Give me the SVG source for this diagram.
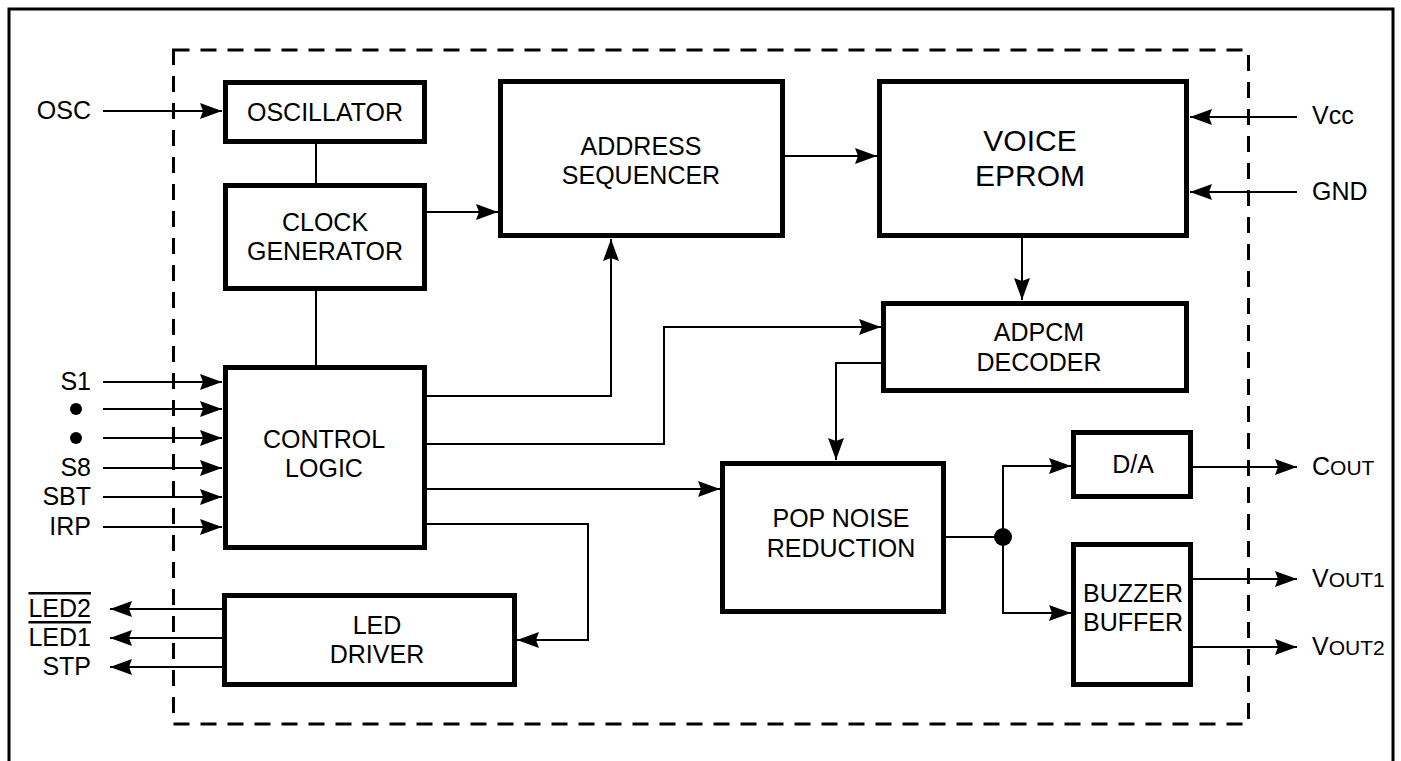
<svg xmlns="http://www.w3.org/2000/svg" width="1401" height="761" viewBox="0 0 1401 761">
<defs>
<marker id="arr" markerUnits="userSpaceOnUse" markerWidth="24" markerHeight="18" refX="22" refY="8" orient="auto">
<path d="M0,0 L22,8 L0,16 L3,8 z" fill="#000"/>
</marker>
<style>
.box{fill:#fff;stroke:#000;stroke-width:5}
.ln{fill:none;stroke:#000;stroke-width:2}
.ar{fill:none;stroke:#000;stroke-width:2;marker-end:url(#arr)}
text{font-family:"Liberation Sans",Arial,sans-serif;font-size:25px;fill:#000}
.c{text-anchor:middle}
.e{text-anchor:end}
.sm{font-size:21px}
</style>
</defs>
<rect x="0" y="0" width="1401" height="761" fill="#fff"/>
<rect x="9" y="9" width="1384" height="800" fill="none" stroke="#000" stroke-width="3"/>
<rect x="173.5" y="50" width="1075" height="674" fill="none" stroke="#000" stroke-width="3" stroke-dasharray="16 11"/>

<g id="connectors">
<path class="ar" d="M103,111 H222"/>
<path class="ln" d="M316,144 V183"/>
<path class="ln" d="M316,291 V365"/>
<path class="ar" d="M427,212 H498"/>
<path class="ar" d="M785,156 H877"/>
<path class="ar" d="M1297,117 H1190"/>
<path class="ar" d="M1297,192 H1190"/>
<path class="ar" d="M1022,238 V300"/>
<path class="ar" d="M427,396 H611 V239"/>
<path class="ar" d="M427,444 H664 V327 H881"/>
<path class="ar" d="M427,489 H720"/>
<path class="ar" d="M427,524 H588 V640 H517"/>
<path class="ar" d="M881,363 H836 V460"/>
<path class="ln" d="M946,537 H1003"/>
<path class="ar" d="M1003,537 V466 H1071"/>
<path class="ar" d="M1003,537 V613 H1071"/>
<circle cx="1003" cy="537" r="9" fill="#000"/>
<path class="ar" d="M1193,467 H1297"/>
<path class="ar" d="M1193,579 H1297"/>
<path class="ar" d="M1193,647 H1297"/>
<path class="ar" d="M103,382 H222"/>
<path class="ar" d="M103,409 H222"/>
<path class="ar" d="M103,438 H222"/>
<path class="ar" d="M103,468 H222"/>
<path class="ar" d="M103,497 H222"/>
<path class="ar" d="M103,527 H222"/>
<path class="ar" d="M222,609 H110"/>
<path class="ar" d="M222,638 H110"/>
<path class="ar" d="M222,667 H110"/>
</g>

<g id="oscillator">
<rect class="box" x="225.5" y="82.5" width="199" height="59"/>
<text class="c" x="325" y="121">OSCILLATOR</text>
</g>
<g id="clock-generator">
<rect class="box" x="225.5" y="185.5" width="199" height="103"/>
<text class="c" x="325" y="231">CLOCK</text>
<text class="c" x="325" y="260">GENERATOR</text>
</g>
<g id="control-logic">
<rect class="box" x="225.5" y="367.5" width="199" height="180"/>
<text class="c" x="324" y="448">CONTROL</text>
<text class="c" x="324" y="477">LOGIC</text>
</g>
<g id="led-driver">
<rect class="box" x="224.5" y="595.5" width="290" height="89"/>
<text class="c" x="377" y="634">LED</text>
<text class="c" x="377" y="663">DRIVER</text>
</g>
<g id="address-sequencer">
<rect class="box" x="500.5" y="81.5" width="282" height="154"/>
<text class="c" x="641" y="155">ADDRESS</text>
<text class="c" x="641" y="184">SEQUENCER</text>
</g>
<g id="voice-eprom">
<rect class="box" x="879.5" y="81.5" width="307" height="154"/>
<text class="c" x="1030" y="151" style="font-size:30px">VOICE</text>
<text class="c" x="1030" y="186" style="font-size:30px">EPROM</text>
</g>
<g id="adpcm-decoder">
<rect class="box" x="883.5" y="303.5" width="303" height="87"/>
<text class="c" x="1039" y="341">ADPCM</text>
<text class="c" x="1039" y="371">DECODER</text>
</g>
<g id="pop-noise-reduction">
<rect class="box" x="722.5" y="463.5" width="221" height="148"/>
<text class="c" x="841" y="527">POP NOISE</text>
<text class="c" x="841" y="557">REDUCTION</text>
</g>
<g id="da">
<rect class="box" x="1073.5" y="432.5" width="117" height="64"/>
<text class="c" x="1133" y="473">D/A</text>
</g>
<g id="buzzer-buffer">
<rect class="box" x="1073.5" y="544.5" width="117" height="140"/>
<text class="c" x="1133" y="602">BUZZER</text>
<text class="c" x="1133" y="631">BUFFER</text>
</g>

<g id="pins">
<text class="e" x="91" y="119">OSC</text>
<text class="e" x="91" y="390">S1</text>
<circle cx="76" cy="409" r="6" fill="#000"/>
<circle cx="76" cy="438" r="6" fill="#000"/>
<text class="e" x="91" y="476">S8</text>
<text class="e" x="91" y="505">SBT</text>
<text class="e" x="91" y="535">IRP</text>
<text class="e" x="91" y="617" style="text-decoration:overline">LED2</text>
<text class="e" x="91" y="646" style="text-decoration:overline">LED1</text>
<text class="e" x="91" y="675">STP</text>
<text x="1312" y="124">V<tspan>cc</tspan></text>
<text x="1312" y="200">GND</text>
<text x="1312" y="475">C<tspan class="sm">OUT</tspan></text>
<text x="1312" y="587">V<tspan class="sm">OUT1</tspan></text>
<text x="1312" y="655">V<tspan class="sm">OUT2</tspan></text>
</g>
</svg>
